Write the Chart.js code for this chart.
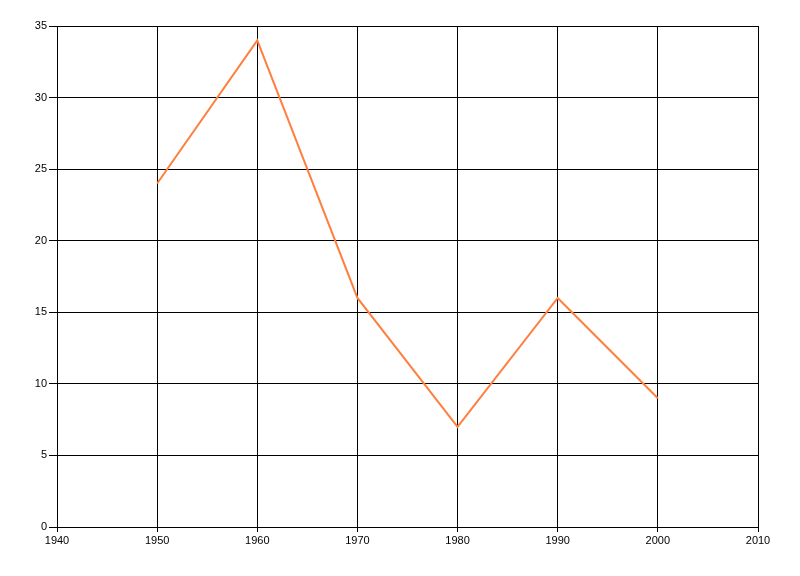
<!DOCTYPE html>
<html lang="en">
<head>
    <meta charset="UTF-8">
    <title>Line Chart</title>
    <script src="https://cdn.jsdelivr.net/npm/chart.js"></script>
    <style>
        body { margin: 0; background: #ffffff; }
        #wrap { width: 800px; height: 576px; }
    </style>
</head>
<body>
    <div id="wrap"><canvas id="chart" width="800" height="576"></canvas></div>
    <script>
        const years = [1950, 1960, 1970, 1980, 1990, 2000];
        const values = [24, 34, 16, 7, 16, 9];
        const xTicks = [1940, 1950, 1960, 1970, 1980, 1990, 2000, 2010];
        const yTicks = [0, 5, 10, 15, 20, 25, 30, 35];

        Chart.defaults.font.family = "'Liberation Sans', 'DejaVu Sans', sans-serif";
        Chart.defaults.font.size = 11;
        Chart.defaults.color = "#000";

        new Chart(document.getElementById("chart"), {
            type: "line",
            data: {
                datasets: [{
                    data: years.map((y, i) => ({ x: y, y: values[i] })),
                    borderColor: "#ff7f3f",
                    borderWidth: 2,
                    pointRadius: 0,
                    tension: 0,
                    fill: false
                }]
            },
            options: {
                responsive: false,
                animation: false,
                layout: { padding: { top: 26, right: 42, left: 0, bottom: 0 } },
                plugins: { legend: { display: false }, tooltip: { enabled: false } },
                scales: {
                    x: {
                        type: "linear",
                        min: xTicks[0],
                        max: xTicks[xTicks.length - 1],
                        afterBuildTicks: s => { s.ticks = xTicks.map(v => ({ value: v })); },
                        afterFit: s => { s.height = 49; },
                        ticks: { callback: v => String(v), padding: 2, maxRotation: 0 },
                        grid: { color: "#000", lineWidth: 1, tickLength: 5 },
                        border: { color: "#000", width: 1 }
                    },
                    y: {
                        min: yTicks[0],
                        max: yTicks[yTicks.length - 1],
                        afterBuildTicks: s => { s.ticks = yTicks.map(v => ({ value: v })); },
                        afterFit: s => { s.width = 57; },
                        ticks: { padding: 2 },
                        grid: { color: "#000", lineWidth: 1, tickLength: 8 },
                        border: { color: "#000", width: 1 }
                    }
                }
            }
        });
    </script>
</body>
</html>
